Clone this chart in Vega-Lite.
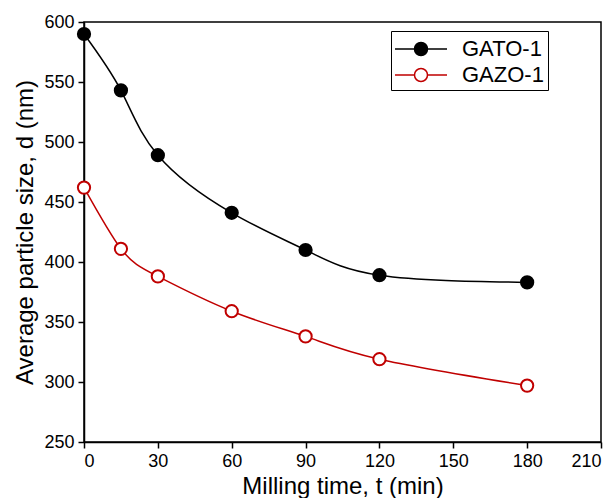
{
  "$schema": "https://vega.github.io/schema/vega-lite/v6.json",
  "width": 517,
  "height": 420,
  "padding": {"left": 13, "top": 13, "right": 2, "bottom": 0},
  "background": "white",
  "config": {
    "font": "Liberation Sans",
    "view": {"stroke": "black", "strokeWidth": 1.5},
    "axis": {"grid": false, "domainColor": "black", "domainWidth": 1.5, "tickColor": "black", "tickWidth": 1.5, "labelColor": "black", "titleColor": "black", "labelFontSize": 18, "titleFontSize": 24, "titleFontWeight": "normal"},
    "legend": {"orient": "none", "legendX": 307, "legendY": 9, "strokeColor": "black", "strokeWidth": 1, "padding": 4, "labelFontSize": 22, "labelColor": "black", "symbolType": "M-2,0H-0.5M0.5,0H2M0.5,0A0.5,0.5 0 1 1 -0.5,0A0.5,0.5 0 1 1 0.5,0Z", "symbolSize": 676, "symbolStrokeWidth": 1.5, "symbolOffset": 12, "rowPadding": 1, "labelOffset": 27}
  },
  "data": {"values": [
    {"t": 0, "d": 590, "series": "GATO-1"},
    {"t": 15, "d": 543, "series": "GATO-1"},
    {"t": 30, "d": 489, "series": "GATO-1"},
    {"t": 60, "d": 441, "series": "GATO-1"},
    {"t": 90, "d": 410, "series": "GATO-1"},
    {"t": 120, "d": 389, "series": "GATO-1"},
    {"t": 180, "d": 383, "series": "GATO-1"},
    {"t": 0, "d": 462, "series": "GAZO-1"},
    {"t": 15, "d": 411, "series": "GAZO-1"},
    {"t": 30, "d": 388, "series": "GAZO-1"},
    {"t": 60, "d": 359, "series": "GAZO-1"},
    {"t": 90, "d": 338, "series": "GAZO-1"},
    {"t": 120, "d": 319, "series": "GAZO-1"},
    {"t": 180, "d": 297, "series": "GAZO-1"}
  ]},
  "layer": [
    {
      "mark": {"type": "line", "interpolate": "natural", "strokeWidth": 1.5},
      "encoding": {
        "x": {"field": "t", "type": "quantitative", "scale": {"domain": [0, 210], "nice": false}, "axis": {"values": [0, 15, 30, 45, 60, 75, 90, 105, 120, 135, 150, 165, 180, 195, 210], "labelExpr": "datum.value % 30 == 0 ? datum.label : ''", "tickSize": 6, "labelPadding": 4, "title": "Milling time, t (min)", "titlePadding": 4}},
        "y": {"field": "d", "type": "quantitative", "scale": {"domain": [250, 600], "nice": false, "zero": false}, "axis": {"values": [250, 275, 300, 325, 350, 375, 400, 425, 450, 475, 500, 525, 550, 575, 600], "labelExpr": "datum.value % 50 == 0 ? datum.label : ''", "tickSize": 6, "labelPadding": 4, "title": "Average particle size, d (nm)", "titlePadding": 6}},
        "stroke": {"field": "series", "type": "nominal", "scale": {"domain": ["GATO-1", "GAZO-1"], "range": ["black", "#c00000"]}, "legend": {"title": null}},
        "detail": {"field": "series"}
      }
    },
    {
      "mark": {"type": "point", "filled": false, "size": 150, "strokeWidth": 2, "opacity": 1},
      "encoding": {
        "x": {"field": "t", "type": "quantitative"},
        "y": {"field": "d", "type": "quantitative"},
        "stroke": {"field": "series", "type": "nominal", "legend": {"title": null}},
        "fill": {"field": "series", "type": "nominal", "scale": {"domain": ["GATO-1", "GAZO-1"], "range": ["black", "white"]}, "legend": {"title": null}}
      }
    }
  ]
}
